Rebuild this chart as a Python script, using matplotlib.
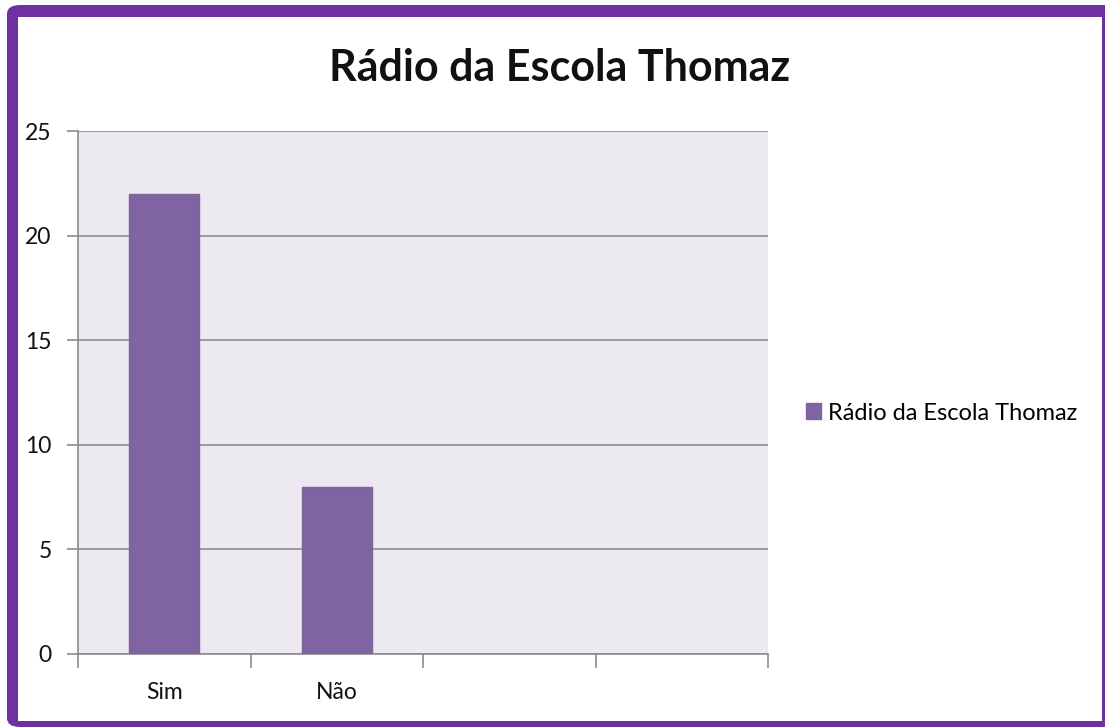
import matplotlib
matplotlib.use("Agg")
import matplotlib.pyplot as plt
from matplotlib.patches import Rectangle, FancyBboxPatch

title = "Rádio da Escola Thomaz"
series_name = "Rádio da Escola Thomaz"
categories = ["Sim", "Não", "", ""]
values = [22, 8, None, None]
yticks = [0, 5, 10, 15, 20, 25]

W, H = 1105, 727
fig = plt.figure(figsize=(W / 100, H / 100), dpi=100)
fig.patch.set_facecolor("white")

purple = "#7030A0"
# purple frame
fig.patches.append(Rectangle((0, 0), 1, 1, transform=fig.transFigure,
                             facecolor="white", edgecolor="none", zorder=-3))
fig.patches.append(FancyBboxPatch((7 / W, 0), (W - 7) / W + 0.01, (H - 5) / H,
                                  boxstyle="round,pad=0,rounding_size=0.012",
                                  transform=fig.transFigure, facecolor=purple,
                                  edgecolor="none", zorder=-2))
fig.patches.append(Rectangle((18 / W, 6 / H), (1102 - 18) / W, (H - 17 - 6) / H,
                             transform=fig.transFigure, facecolor="white",
                             edgecolor="none", zorder=-1))

ax = fig.add_axes([78 / W, (H - 654) / H, (768 - 78) / W, (654 - 131) / H])
ax.set_facecolor("#ECEAF0")

xs = list(range(len(categories)))
bx = [x for x, v in zip(xs, values) if v is not None]
bv = [v for v in values if v is not None]
ax.bar(bx, bv, width=0.405, color="#8064A2", edgecolor="#7A6595", linewidth=1,
       zorder=3, label=series_name)

ax.set_xlim(-0.5, len(categories) - 0.5)
ax.set_ylim(0, 25)
ax.set_yticks(yticks)
ax.set_yticklabels([str(t) for t in yticks], fontsize=16.5, family="Lato", color="#111111")
ax.yaxis.grid(True, color="#8C8C8C", linewidth=1.2, zorder=1)
ax.set_axisbelow(True)

ax.set_xticks(xs)
ax.set_xticklabels(categories, fontsize=16.5, family="Lato", color="#111111")
ax.tick_params(axis="x", length=0, pad=20)
ax.set_xticks([x + 0.5 for x in [-1] + xs], minor=True)
ax.tick_params(axis="x", which="minor", length=10, color="#8C8C8C", width=1.2)
ax.tick_params(axis="y", length=8, color="#8C8C8C", width=1.2, pad=11)

for s in ["top", "right"]:
    ax.spines[s].set_visible(False)
for s in ["left", "bottom"]:
    ax.spines[s].set_color("#8C8C8C")
    ax.spines[s].set_linewidth(1.2)

fig.text(560 / W, 1 - 68 / H, title, ha="center", va="center",
         fontsize=31, fontweight="bold", family="Lato", color="#111111")

leg = ax.legend(loc="center left", bbox_to_anchor=(806 / W, 1 - 413 / H),
                bbox_transform=fig.transFigure, frameon=False,
                prop={"family": "Lato", "size": 17}, handlelength=0.65,
                handleheight=0.65, handletextpad=0.3, borderaxespad=0,
                borderpad=0)

fig.savefig("out.png", dpi=100)
